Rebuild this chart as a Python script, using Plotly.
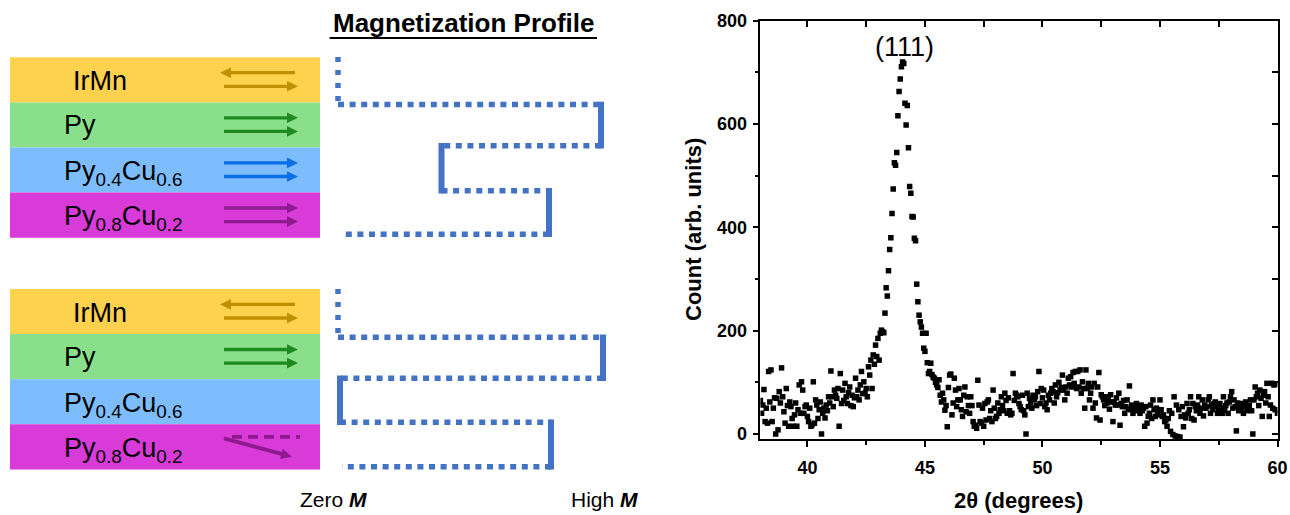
import numpy as np
import plotly.graph_objects as go

# ---------------- data ----------------
two_theta_start = 38.0
two_theta_step = 0.05
counts = [
    65, 40, 56, 86, 24, 50, 21, 121, 62, 124, 24, 50, 70, 0, 69, 8, 82, 60, 128, 72,
    43, 21, 88, 55, 15, 62, 53, 30, 15, 37, 60, 15, 47, 95, 40, 101, 85, 40, 53, 56,
    34, 24, 50, 15, 18, 101, 21, 66, 56, 30, 47, 62, 0, 40, 50, 31, 56, 45, 72, 60,
    122, 72, 53, 85, 75, 69, 88, 15, 117, 59, 85, 65, 98, 72, 59, 80, 91, 55, 75, 53,
    70, 108, 72, 85, 66, 95, 121, 78, 101, 79, 88, 72, 130, 114, 143, 88, 153, 135, 172, 150,
    185, 143, 195, 201, 198, 196, 234, 283, 267, 316, 357, 380, 427, 474, 525, 520, 545, 616, 663, 687,
    711, 720, 717, 640, 598, 636, 554, 479, 466, 421, 420, 379, 374, 290, 256, 230, 217, 207, 195, 166,
    160, 195, 138, 117, 121, 137, 115, 110, 108, 100, 95, 90, 105, 75, 62, 79, 66, 46, 55, 14,
    90, 114, 116, 37, 60, 108, 85, 53, 66, 88, 66, 47, 34, 75, 91, 43, 72, 55, 40, 72,
    55, 24, 15, 17, 11, 104, 56, 24, 21, 50, 15, 59, 27, 62, 66, 30, 45, 24, 85, 50,
    30, 34, 60, 40, 47, 72, 55, 45, 79, 65, 40, 70, 45, 37, 40, 117, 65, 79, 75, 72,
    59, 53, 47, 75, 45, 37, 0, 79, 53, 69, 60, 50, 75, 66, 72, 55, 82, 121, 59, 88,
    70, 85, 53, 60, 47, 75, 66, 79, 88, 82, 60, 95, 72, 80, 100, 85, 90, 114, 85, 66,
    91, 79, 108, 95, 111, 91, 119, 98, 121, 88, 121, 91, 124, 79, 101, 88, 50, 124, 88, 98,
    66, 79, 91, 50, 98, 60, 31, 91, 119, 27, 76, 72, 66, 55, 72, 60, 66, 48, 76, 62,
    24, 62, 56, 70, 56, 79, 17, 59, 53, 65, 40, 53, 66, 48, 93, 47, 56, 40, 50, 45,
    59, 50, 53, 40, 56, 45, 50, 15, 53, 21, 34, 40, 56, 30, 66, 47, 34, 50, 37, 45,
    66, 47, 34, 37, 24, 27, 15, 30, 45, 5, 40, -1, 72, -4, 56, -5, 47, -6, 34, 53,
    14, 37, 31, 59, 40, 47, 72, 30, 59, 27, 53, 45, 56, 72, 40, 50, 66, 35, 56, 50,
    53, 66, 72, 40, 56, 47, 59, 62, 53, 40, 43, 59, 50, 40, 72, 45, 55, 60, 40, 62,
    72, 82, 50, 66, 53, 6, 60, 45, 56, 48, 59, 40, 53, 62, 45, 50, 55, 66, 45, 0,
    66, 91, 72, 79, 55, 85, 69, 34, 75, 82, 60, 98, 72, 34, 56, 98, 50, 95, 47, 97, 40,
]
two_theta = np.round(two_theta_start + two_theta_step * np.arange(len(counts)), 3)

x_ticks = [40, 45, 50, 55, 60]
y_ticks = [0, 200, 400, 600, 800]
x_minor = [42.5, 47.5, 52.5, 57.5]
y_minor = [100, 300, 500, 700]
peak_label = "(111)"
peak_pos = (44.11, 749)

layer_names = ["IrMn", "Py", "Py<sub>0.4</sub>Cu<sub>0.6</sub>", "Py<sub>0.8</sub>Cu<sub>0.2</sub>"]

# ---------------- style ----------------
FONT = "Liberation Sans, Arial, sans-serif"
W, H = 1290, 515
layer_colors = ["#FFD24D", "#8AE08A", "#7DBDFE", "#D93BD9"]
arrow_colors = ["#BF9000", "#1F8A1F", "#0A6EE6", "#8E1B8E"]
PROFILE = "#4472C4"

fig = go.Figure()

# XRD scatter
fig.add_trace(go.Scatter(x=two_theta, y=counts, mode="markers",
                         marker=dict(symbol="square", size=5.5, color="black", line=dict(width=0)),
                         xaxis="x", yaxis="y", showlegend=False, hoverinfo="skip"))
# dummy traces so overlay / pixel axes exist
for xa, ya in [("x3", "y"), ("x", "y3"), ("x2", "y2")]:
    fig.add_trace(go.Scatter(x=[None], y=[None], xaxis=xa, yaxis=ya, showlegend=False, hoverinfo="skip"))

shapes = []
annotations = []

def rect(x0, y0, x1, y1, color):
    shapes.append(dict(type="rect", xref="x2", yref="y2", x0=x0, y0=y0, x1=x1, y1=y1,
                       fillcolor=color, line=dict(width=0)))

def seg(x0, y0, x1, y1, width, dash="solid", color=PROFILE):
    shapes.append(dict(type="line", xref="x2", yref="y2", x0=x0, y0=y0, x1=x1, y1=y1,
                       line=dict(color=color, width=width, dash=dash)))

def text(x, y, t, size, xanchor="center", bold=False, angle=0, xref="x2", yref="y2"):
    annotations.append(dict(x=x, y=y, xref=xref, yref=yref, text=t, showarrow=False,
                            xanchor=xanchor, yanchor="middle", textangle=angle,
                            font=dict(family=FONT, size=size, color="black",
                                      weight="bold" if bold else "normal")))

def arrow(xt, yt, xh, yh, color, width=3.3, head_len=11.0, head_half=5.3):
    dx, dy = xh - xt, yh - yt
    L = (dx * dx + dy * dy) ** 0.5
    ux, uy = dx / L, dy / L
    nx, ny = -uy, ux
    bx, by = xh - head_len * ux, yh - head_len * uy
    seg(xt, yt, bx + 1.0 * ux, by + 1.0 * uy, width, color=color)
    path = (f"M {xh:.2f},{yh:.2f} L {bx + head_half * nx:.2f},{by + head_half * ny:.2f} "
            f"L {bx - head_half * nx:.2f},{by - head_half * ny:.2f} Z")
    shapes.append(dict(type="path", xref="x2", yref="y2", path=path,
                       fillcolor=color, line=dict(width=0)))

# ---------------- schematic ----------------
stack_tops = [57.3, 289.0]
LH = 45.1
label_x = [70.5, 62, 62, 62]
for s, top in enumerate(stack_tops):
    for i in range(4):
        rect(10, top + i * LH, 320, top + (i + 1) * LH, layer_colors[i])
    for i in range(4):
        cy = top + i * LH + LH / 2 + (1.5 if i == 0 else 0.5) + (2.5 if i >= 2 else 0)
        text(label_x[i], cy, layer_names[i], 27, xanchor="left")
    a1 = top + 15.4
    a2 = top + 29.0
    arrow(295, a1, 220, a1, arrow_colors[0])
    arrow(224, a2, 298, a2, arrow_colors[0])
    arrow(224, a1 + LH, 298, a1 + LH, arrow_colors[1])
    arrow(224, a2 + LH, 298, a2 + LH, arrow_colors[1])
    if s == 0:
        arrow(224, a1 + 2 * LH, 298, a1 + 2 * LH, arrow_colors[2])
        arrow(224, a2 + 2 * LH, 298, a2 + 2 * LH, arrow_colors[2])
        arrow(224, a1 + 3 * LH, 298, a1 + 3 * LH, arrow_colors[3])
        arrow(224, a2 + 3 * LH, 298, a2 + 3 * LH, arrow_colors[3])
    else:
        seg(232, top + 3 * LH + 12.5, 300, top + 3 * LH + 12.5, 3.8, dash="10px,6px", color=arrow_colors[3])
        arrow(224, top + 3 * LH + 14, 292, top + 3 * LH + 32.5, arrow_colors[3], width=3.8)

DOT_H = "6px,5.6px"
DOT_V = "5px,8px"
DW = 5.5
SW = 6
# top profile
seg(338, 57, 338, 101, DW, DOT_V)
seg(338, 104.5, 601, 104.5, DW, DOT_H)
seg(601, 101.7, 601, 148.5, SW)
seg(601, 145.7, 441.5, 145.7, DW, DOT_H)
seg(441.5, 143, 441.5, 193.5, SW)
seg(441.5, 190.7, 549, 190.7, DW, DOT_H)
seg(549, 188, 549, 237, SW)
seg(549, 234.3, 342, 234.3, DW, DOT_H)
# bottom profile
seg(338, 289, 338, 333, DW, DOT_V)
seg(338, 337.3, 603, 337.3, DW, DOT_H)
seg(603, 334.5, 603, 381, SW)
seg(603, 378.3, 340, 378.3, DW, DOT_H)
seg(340, 375.5, 340, 425, SW)
seg(340, 422.3, 551, 422.3, DW, DOT_H)
seg(551, 419.5, 551, 469.5, SW)
seg(551, 466.7, 342, 466.7, DW, DOT_H)

# title + underline
text(463.3, 23.0, "Magnetization Profile", 26, bold=True)
shapes.append(dict(type="line", xref="x2", yref="y2", x0=329.6, x1=597, y0=38.0, y1=38.0,
                   line=dict(color="black", width=2)))
text(333.5, 499, "Zero <b><i>M</i></b>", 21)
text(604, 499, "High <b><i>M</i></b>", 21)

# axis titles / peak label
text(693, 230, "Count (arb. units)", 22, bold=True, angle=-90)
text(1018.5, 500, "2θ (degrees)", 22, bold=True)
text(peak_pos[0], peak_pos[1], peak_label, 27, xref="x", yref="y")

# ---------------- axes ----------------
x_dom = [760.4 / W, 1277.5 / W]
y_dom = [(H - 439) / H, (H - 20.7) / H]
x_rng = [38, 60]
y_rng = [-9.7, 800]
tickfont = dict(family=FONT, size=18, color="black", weight="bold")
common = dict(showgrid=False, zeroline=False, showline=True, linecolor="black", linewidth=1.6,
              tickcolor="black", tickwidth=1.5, ticklen=6, fixedrange=True, automargin=False)

fig.update_layout(
    width=W, height=H, margin=dict(l=0, r=0, t=0, b=0, pad=0, autoexpand=False),
    paper_bgcolor="white", plot_bgcolor="rgba(0,0,0,0)", showlegend=False,
    xaxis=dict(domain=x_dom, range=x_rng, anchor="y", tickvals=x_ticks, ticks="outside",
               tickfont=tickfont, ticklabelstandoff=6,
               minor=dict(tickvals=x_minor, ticks="outside", ticklen=4,
                          tickwidth=1.5, tickcolor="black"), **common),
    yaxis=dict(domain=y_dom, range=y_rng, anchor="x", tickvals=y_ticks, ticks="outside",
               tickfont=tickfont, ticklabelstandoff=2,
               minor=dict(tickvals=y_minor, ticks="outside", ticklen=4,
                          tickwidth=1.5, tickcolor="black"), **common),
    xaxis3=dict(overlaying="x", anchor="y", side="top", range=x_rng, tickvals=x_ticks,
                ticks="inside", showticklabels=False,
                minor=dict(tickvals=x_minor, ticks="inside", ticklen=6,
                           tickwidth=1.5, tickcolor="black"), **common),
    yaxis3=dict(overlaying="y", anchor="x", side="right", range=y_rng, tickvals=y_ticks,
                ticks="inside", showticklabels=False,
                minor=dict(tickvals=y_minor, ticks="inside", ticklen=6,
                           tickwidth=1.5, tickcolor="black"), **common),
    xaxis2=dict(domain=[0, 1], range=[0, W], anchor="y2", visible=False, fixedrange=True, automargin=False),
    yaxis2=dict(domain=[0, 1], range=[H, 0], anchor="x2", visible=False, fixedrange=True, automargin=False),
    shapes=shapes, annotations=annotations,
)

fig.write_html("out.html")
